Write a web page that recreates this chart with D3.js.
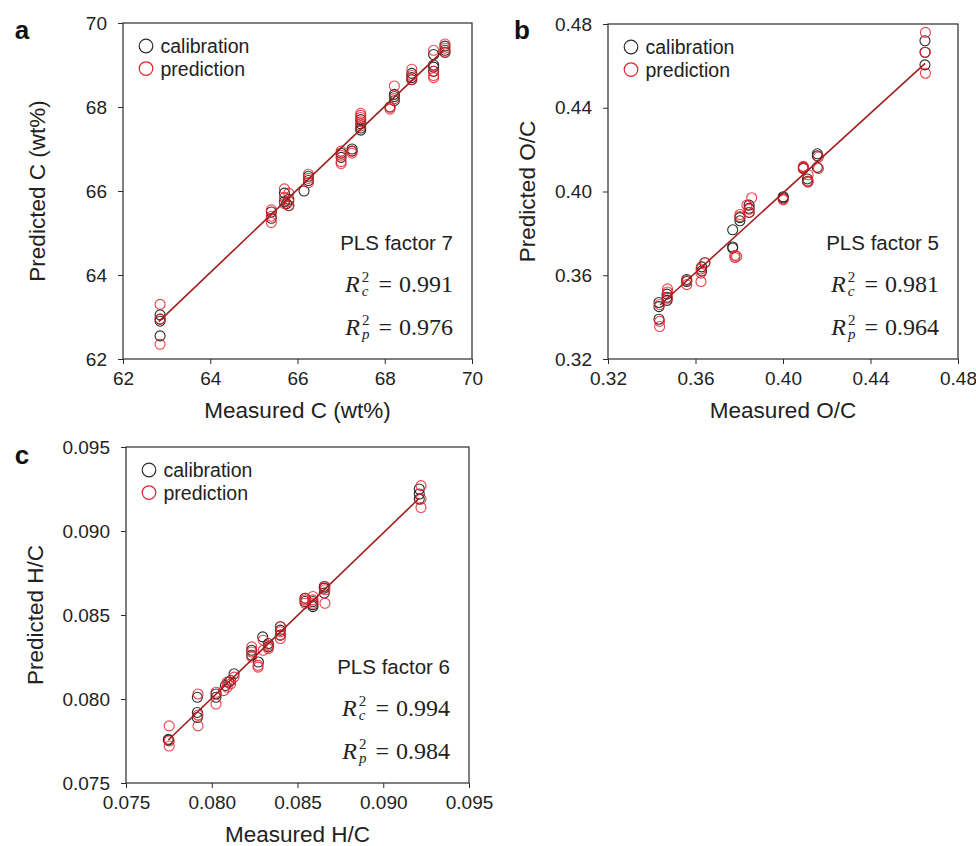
<!DOCTYPE html>
<html><head><meta charset="utf-8">
<script src="https://cdn.jsdelivr.net/npm/d3@7"></script>
<style>body{margin:0;background:#fff}</style>
</head><body><svg id="chart" width="976" height="846"></svg>
<script>
// ---------- Panel a: Carbon (wt%) ----------
const aCalMeasured  = [62.85,62.85,62.85,62.85, 65.4,65.4, 65.7,65.7,65.8,65.8,65.75, 66.15,66.25,66.25, 67.0,67.0, 67.25,67.25, 67.45,67.45,67.45,67.45, 68.12, 68.22,68.22,68.22, 68.62,68.62,68.62, 69.12,69.12,69.12,69.12, 69.38,69.38,69.38];
const aCalPredicted = [63.05,62.95,62.9,62.55, 65.5,65.35, 65.95,65.75,65.8,65.65,65.7, 66.0,66.25,66.35, 66.9,66.8, 67.0,66.95, 67.7,67.6,67.5,67.45, 68.0, 68.3,68.25,68.15, 68.8,68.7,68.65, 69.25,69.0,68.95,68.85, 69.45,69.35,69.3];
const aPredMeasured = [62.85,62.85,62.85, 65.4,65.4,65.4, 65.7,65.7,65.7,65.8,65.8,65.8, 66.25,66.25,66.25, 67.0,67.0,67.0,67.0, 67.25,67.25, 67.45,67.45,67.45,67.45,67.45, 68.12,68.12, 68.22,68.22, 68.62,68.62,68.62, 69.12,69.12,69.12,69.12, 69.38,69.38,69.38];
const aPredPredicted= [63.3,62.95,62.35, 65.55,65.4,65.25, 66.05,65.85,65.7,65.95,65.75,65.65, 66.4,66.3,66.2, 66.95,66.85,66.7,66.65, 66.95,66.9, 67.85,67.8,67.75,67.65,67.55, 68.0,67.95, 68.5,68.2, 68.9,68.75,68.65, 69.35,68.85,68.75,68.7, 69.5,69.4,69.3];
const aFitX = [62.82, 69.36];
const aFitY = [62.89, 69.36];
const aTicks = [62,64,66,68,70];

// ---------- Panel b: O/C ----------
const bCalMeasured  = [0.3433,0.3433,0.3433, 0.347,0.347,0.347, 0.356,0.356, 0.3628,0.3628,0.3643, 0.377,0.377,0.377, 0.3803,0.3803, 0.3845,0.3845,0.3845, 0.4001,0.4001, 0.4093,0.4093, 0.4112,0.4112, 0.4157,0.4157,0.4157, 0.4649,0.4649,0.4649];
const bCalPredicted = [0.347,0.345,0.339, 0.351,0.3495,0.348, 0.358,0.357, 0.364,0.362,0.366, 0.3817,0.3735,0.373, 0.3875,0.386, 0.3935,0.392,0.390, 0.3975,0.397, 0.4115,0.411, 0.406,0.4048, 0.418,0.417,0.4115, 0.472,0.4665,0.4605];
const bPredMeasured = [0.3436,0.3436,0.3436, 0.3472,0.3472,0.3472, 0.356,0.356, 0.3625,0.3625,0.3625,0.3643, 0.378,0.378,0.3788, 0.3803,0.3803, 0.3857,0.3845,0.3845,0.3835, 0.4001,0.4001, 0.4093,0.4093,0.4093, 0.4115,0.4115,0.4115, 0.4162,0.4162, 0.4651,0.4651,0.4651];
const bPredPredicted= [0.346,0.338,0.3355, 0.3535,0.352,0.349, 0.3575,0.3555, 0.363,0.361,0.357,0.366, 0.3695,0.3685,0.369, 0.389,0.388, 0.397,0.3915,0.390,0.3935, 0.3965,0.396, 0.412,0.4115,0.411, 0.408,0.405,0.4045, 0.4165,0.411, 0.476,0.4665,0.4565];
const bFitX = [0.3438, 0.4650];
const bFitY = [0.3458, 0.4612];
const bTicks = [0.32,0.36,0.40,0.44,0.48];

// ---------- Panel c: H/C ----------
const cCalMeasured  = [0.07747,0.07747, 0.07916,0.07916,0.07916, 0.08025,0.08025, 0.0813,0.0811,0.0810,0.0808, 0.08233,0.08233, 0.08272, 0.08297, 0.0833,0.0833, 0.0840,0.0840,0.0840, 0.08544,0.08544, 0.0859,0.0859,0.0859, 0.08656,0.08656,0.08656, 0.0921,0.0921,0.0921];
const cCalPredicted = [0.0776,0.07755, 0.0801,0.0792,0.0789, 0.0803,0.0801, 0.0815,0.0811,0.0810,0.0808, 0.0829,0.0826, 0.0822, 0.0837, 0.0833,0.0831, 0.0843,0.0841,0.0838, 0.0860,0.0858, 0.0858,0.0856,0.0855, 0.0867,0.0866,0.0863, 0.0925,0.0922,0.0919];
const cPredMeasured = [0.07752,0.07752,0.07752, 0.0792,0.0792,0.0792, 0.08025,0.08025, 0.0813,0.0811,0.0811,0.0809,0.0809,0.0807, 0.08233,0.08233,0.08233, 0.0827,0.0827, 0.0830,0.0830, 0.0833,0.0833, 0.0840,0.0840,0.0840,0.0840, 0.08544,0.08544,0.08544, 0.0859,0.0859,0.0859, 0.0866,0.0866,0.0866, 0.0922,0.0922,0.0922];
const cPredPredicted= [0.0784,0.0775,0.0772, 0.0803,0.07905,0.0784, 0.0804,0.0797, 0.0813,0.0811,0.0809,0.0810,0.0807,0.0805, 0.0831,0.0828,0.0825, 0.0820,0.0819, 0.0835,0.0829, 0.0832,0.0830, 0.0843,0.0840,0.0838,0.0836, 0.0860,0.0859,0.0857, 0.0861,0.0859,0.0857, 0.0867,0.0865,0.0857, 0.0927,0.0919,0.0914];
const cFitX = [0.07747, 0.0921];
const cFitY = [0.07756, 0.09195];
const cTicks = [0.075,0.080,0.085,0.090,0.095];

const legendLabels = ["calibration","prediction"];
const panelLetters = ["a","b","c"];
const xTitles = ["Measured C (wt%)","Measured O/C","Measured H/C"];
const yTitles = ["Predicted C (wt%)","Predicted O/C","Predicted H/C"];
const plsFactors = [7,5,6];
const r2Cal = ["0.991","0.981","0.994"];
const r2Pred = ["0.976","0.964","0.984"];

const panels = [
  {box:[123,23,472,359], ticks:aTicks, fmt:d3.format("d"),
   cal:[aCalMeasured,aCalPredicted], pred:[aPredMeasured,aPredPredicted], fit:[aFitX,aFitY],
   letterPos:[22,39], yTitleX:37},
  {box:[608,24,958,359], ticks:bTicks, fmt:d3.format(".2f"),
   cal:[bCalMeasured,bCalPredicted], pred:[bPredMeasured,bPredPredicted], fit:[bFitX,bFitY],
   letterPos:[522,39], yTitleX:527},
  {box:[126,447,469,783], ticks:cTicks, fmt:d3.format(".3f"),
   cal:[cCalMeasured,cCalPredicted], pred:[cPredMeasured,cPredPredicted], fit:[cFitX,cFitY],
   letterPos:[22,464], yTitleX:35}
];

const svg = d3.select("#chart");
const sans = "'Liberation Sans', Arial, sans-serif";
const serif = "'Liberation Serif', 'Times New Roman', serif";
const BLACK = "#2b2b2b", RED = "#e8212b", LINE = "#a31d1d";

panels.forEach((p, i) => {
  const [l, t, r, b] = p.box;
  const dom = [p.ticks[0], p.ticks[p.ticks.length-1]];
  const x = d3.scaleLinear().domain(dom).range([l, r]);
  const y = d3.scaleLinear().domain(dom).range([b, t]);
  const g = svg.append("g");

  // axes
  const ax = g.append("g").attr("transform",`translate(0,${b})`)
    .call(d3.axisBottom(x).tickValues(p.ticks).tickFormat(p.fmt).tickSize(5).tickPadding(8));
  const ay = g.append("g").attr("transform",`translate(${l},0)`)
    .call(d3.axisLeft(y).tickValues(p.ticks).tickFormat(p.fmt).tickSize(5).tickPadding(11));
  [ax, ay].forEach(a => {
    a.select(".domain").remove();
    a.selectAll("line").attr("stroke", BLACK).attr("stroke-width", 1);
    a.selectAll("text").attr("font-family", sans).attr("font-size", 19).attr("fill", "#222");
  });

  // frame
  g.append("rect").attr("x", l).attr("y", t).attr("width", r-l).attr("height", b-t)
    .attr("fill","none").attr("stroke", BLACK).attr("stroke-width", 1.2);

  // points
  const calPts = p.cal[0].map((v,k)=>[v, p.cal[1][k]]);
  const predPts = p.pred[0].map((v,k)=>[v, p.pred[1][k]]);
  g.append("g").selectAll("circle").data(calPts).join("circle")
    .attr("cx", d=>x(d[0])).attr("cy", d=>y(d[1])).attr("r", 5)
    .attr("fill","none").attr("stroke", BLACK).attr("stroke-width", 1.1);
  g.append("g").selectAll("circle").data(predPts).join("circle")
    .attr("cx", d=>x(d[0])).attr("cy", d=>y(d[1])).attr("r", 5)
    .attr("fill","none").attr("stroke", RED).attr("stroke-width", 1.1).attr("stroke-opacity",0.85);

  // fit line
  g.append("line")
    .attr("x1", x(p.fit[0][0])).attr("y1", y(p.fit[1][0]))
    .attr("x2", x(p.fit[0][1])).attr("y2", y(p.fit[1][1]))
    .attr("stroke", LINE).attr("stroke-width", 1.6);

  // legend
  legendLabels.forEach((lab, k) => {
    const cy = t + 23 + k*22.6;
    g.append("circle").attr("cx", l+23).attr("cy", cy).attr("r", 6.8)
      .attr("fill","none").attr("stroke", k===0?BLACK:RED).attr("stroke-width",1.2);
    g.append("text").attr("x", l+37.5).attr("y", cy+7).text(lab)
      .attr("font-family", sans).attr("font-size", 19.5).attr("fill","#222");
  });

  // annotations
  const xr = r - 19;
  g.append("text").attr("x", xr).attr("y", b-109).attr("text-anchor","end")
    .attr("font-family", sans).attr("font-size", 20.5).attr("fill","#222")
    .text("PLS factor " + plsFactors[i]);
  [[r2Cal[i],"c",b-67],[r2Pred[i],"p",b-24]].forEach(([val, sub, yy]) => {
    const tx = g.append("text").attr("x", xr).attr("y", yy).attr("text-anchor","end")
      .attr("font-family", serif).attr("font-size", 24).attr("fill","#222");
    tx.append("tspan").attr("font-style","italic").text("R");
    tx.append("tspan").attr("font-size", 15).attr("dx", 2).attr("dy", -10).text("2");
    tx.append("tspan").attr("font-size", 15).attr("font-style","italic").attr("dx", -7.5).attr("dy", 14).text(sub);
    tx.append("tspan").attr("dx", sub === "c" ? 10 : 9).attr("dy", -4).text("=");
    tx.append("tspan").attr("dx", 7).text("0" + val.slice(1));
  });

  // titles
  g.append("text").attr("x", (l+r)/2).attr("y", b+59).attr("text-anchor","middle")
    .attr("font-family", sans).attr("font-size", 22.5).attr("fill","#222").text(xTitles[i]);
  g.append("text").attr("transform", `translate(${p.yTitleX + 8},${(t+b)/2}) rotate(-90)`)
    .attr("text-anchor","middle")
    .attr("font-family", sans).attr("font-size", 22.5).attr("fill","#222").text(yTitles[i]);

  // panel letter
  g.append("text").attr("x", p.letterPos[0]).attr("y", p.letterPos[1]).attr("text-anchor","middle")
    .attr("font-family", sans).attr("font-weight","bold").attr("font-size", 26).attr("fill","#111")
    .text(panelLetters[i]);
});
</script></body></html>
